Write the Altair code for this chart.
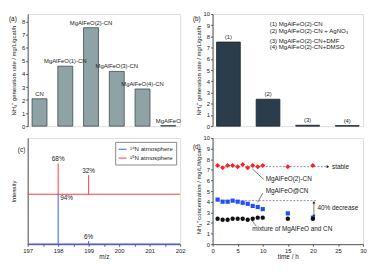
import altair as alt
import pandas as pd

FONT = "Liberation Sans"

# ---------------- data ----------------
cats_a = ["CN", "MgAlFeO(1)-CN", "MgAlFeO(2)-CN", "MgAlFeO(3)-CN", "MgAlFeO(4)-CN", "MgAlFeO"]
rates_a = [2.1, 4.6, 7.55, 4.2, 2.85, 0.05]

cats_b = ["(1)", "(2)", "(3)", "(4)"]
rates_b = [7.5, 2.4, 0.08, 0.05]
legend_b = ["(1)  MgAlFeO(2)-CN", "(2)  MgAlFeO(2)-CN + AgNO₃", "(3)  MgAlFeO(2)-CN+DMF", "(4)  MgAlFeO(2)-CN+DMSO"]
legend_b_y = [9.1, 8.5, 7.6, 7.1]

series_c = ["¹⁴N atmosphere", "¹⁵N atmosphere"]
mz_c = [198, 199]
blue_base_c = 0.0
blue_peak_c = [0.47, 0.03]
blue_lab_c = ["94%", "6%"]
red_base_c = 0.47
red_peak_c = [0.76, 0.65]
red_lab_c = ["68%", "32%"]

time_d = [1, 2, 3, 4, 5, 6, 7, 8, 9, 10, 15, 20]
red_d = [7.4, 7.2, 7.4, 7.4, 7.3, 7.5, 7.2, 7.4, 7.3, 7.4, 7.3, 7.4]
blue_d = [4.2, 4.0, 4.0, 4.1, 4.0, 3.9, 3.8, 3.6, 3.5, 3.3, 2.9, 2.5]
black_d = [2.4, 2.3, 2.3, 2.4, 2.4, 2.4, 2.3, 2.4, 2.5, 2.5, 2.4, 2.4]

# ---------------- helpers ----------------
def yaxis(title, values, labels=True, ticks=True):
    return alt.Axis(title=title, values=values, labels=labels, ticks=ticks, grid=False,
                    minExtent=8, maxExtent=8, titlePadding=3, labelFontSize=6,
                    titleFontSize=6, tickSize=2, labelPadding=1, domainColor="#555",
                    tickColor="#555", titleFontWeight="normal", titleColor="#222",
                    labelColor="#222", labelFont=FONT, titleFont=FONT,
                    labelOverlap=False, labelFlush=False)

def xaxis(title, values, label_expr=None):
    kw = dict(title=title, values=values, grid=False, labelFontSize=6, titleFontSize=6.5,
              tickSize=2, labelPadding=1, titlePadding=1, domainColor="#555", tickColor="#555",
              titleFontWeight="normal", titleColor="#222", labelColor="#222",
              labelFont=FONT, titleFont=FONT, labelAngle=0, labelOverlap=False, labelFlush=False)
    if label_expr:
        kw["labelExpr"] = label_expr
    return alt.Axis(**kw)

def panel_label(txt, x, y):
    return alt.Chart(pd.DataFrame({"t": [txt]})).mark_text(
        align="left", baseline="middle", fontSize=6.5, font=FONT, color="#222"
    ).encode(x=alt.value(x), y=alt.value(y), text="t:N")

W0, W1, H0, H1 = 155, 153, 114, 108

# ---------------- panel a ----------------
df_a = pd.DataFrame({"cat": cats_a, "rate": rates_a})
xa = alt.X("cat:N", sort=cats_a, axis=None,
           scale=alt.Scale(paddingInner=0.42, paddingOuter=0.17))
ya = alt.Y("rate:Q", scale=alt.Scale(domain=[0, 8.6], nice=False),
           axis=yaxis("NH₄⁺ generation rate / mg/L/gcat/h", list(range(9))))
bars_a = alt.Chart(df_a).mark_bar(color="#8fa3a6", stroke="#3e4d50", strokeWidth=0.8).encode(x=xa, y=ya)
text_a = alt.Chart(df_a).mark_text(dy=-2, baseline="bottom", fontSize=6, font=FONT, color="#222").encode(
    x=xa, y=ya, text="cat:N")
pa = alt.layer(bars_a, text_a, panel_label("(a)", -19, 5)).properties(width=W0, height=H0)

# ---------------- panel b ----------------
df_b = pd.DataFrame({"cat": cats_b, "rate": rates_b})
xb = alt.X("cat:N", sort=cats_b, axis=None,
           scale=alt.Scale(paddingInner=0.4, paddingOuter=0.1))
yb = alt.Y("rate:Q", scale=alt.Scale(domain=[0, 10], nice=False),
           axis=yaxis("NH₄⁺ generation rate / mg/L/gcat/h", list(range(11))))
bars_b = alt.Chart(df_b).mark_bar(color="#2b3d4a", stroke="#1a252e", strokeWidth=0.8).encode(x=xb, y=yb)
text_b = alt.Chart(df_b).mark_text(dy=-2, baseline="bottom", fontSize=6, font=FONT, color="#222").encode(
    x=xb, y=yb, text="cat:N")
df_bl = pd.DataFrame({"t": legend_b, "rate": legend_b_y})
leg_b = alt.Chart(df_bl).mark_text(align="left", baseline="middle", fontSize=6.2, font=FONT, color="#222").encode(
    x=alt.value(58), y=yb, text="t:N")
pb = alt.layer(bars_b, text_b, leg_b, panel_label("(b)", -20, 5)).properties(width=W1, height=H0)

# ---------------- panel c ----------------
xc_scale = alt.Scale(domain=[197, 202], nice=False)
yc_scale = alt.Scale(domain=[0, 1], nice=False)
XC_AXIS = xaxis("m/z", [197, 197.5, 198, 198.5, 199, 199.5, 200, 200.5, 201, 201.5, 202],
                "datum.value % 1 ? '' : format(datum.value, 'd')")
YC_AXIS = yaxis("Intensity", [], labels=False, ticks=False)
color_c = alt.Color("series:N", scale=alt.Scale(domain=series_c, range=["#3a55ff", "#ff3b3b"]),
                    legend=alt.Legend(title=None, orient="top-right", offset=4, strokeColor="#888",
                                      fillColor="white", padding=3, labelFontSize=6.2, labelFont=FONT,
                                      symbolType="stroke", symbolSize=64, symbolStrokeWidth=1,
                                      rowPadding=1, labelColor="#222", labelOffset=3))
df_c = pd.DataFrame({
    "mz": mz_c + mz_c,
    "v": [blue_base_c] * 2 + [red_base_c] * 2,
    "peak": blue_peak_c + red_peak_c,
    "series": [series_c[0]] * 2 + [series_c[1]] * 2,
})
xc = alt.X("mz:Q", scale=xc_scale, axis=XC_AXIS)
yc = alt.Y("v:Q", scale=yc_scale, axis=YC_AXIS)
base_lines = alt.Chart(pd.DataFrame({"v": [0.002, red_base_c], "c": ["#3a55ff", "#ff3b3b"]})).mark_rule(
    strokeWidth=1).encode(y=yc, color=alt.Color("c:N", scale=None))
peaks_c = alt.Chart(df_c).mark_rule(strokeWidth=1).encode(x=xc, y=yc, y2="peak:Q", color=color_c)
df_ct = pd.DataFrame({"mz": [198, 199, 198, 199], "v": [0.76, 0.65, 0.43, 0.03],
                      "lab": ["68%", "32%", "94%", "6%"]})
lab_top = alt.Chart(df_ct.iloc[[0, 1, 3]]).mark_text(baseline="bottom", dy=-1, fontSize=6.5, font=FONT,
                                                      color="#222").encode(x=xc, y=yc, text="lab:N")
lab_side = alt.Chart(df_ct.iloc[[2]]).mark_text(align="left", baseline="middle", dx=2, fontSize=6.5, font=FONT,
                                                color="#222").encode(x=xc, y=yc, text="lab:N")
pc = alt.layer(base_lines, peaks_c, lab_top, lab_side, panel_label("(c)", -10, 12)).properties(
    width=W0, height=H1).resolve_scale(color="independent")

# ---------------- panel d ----------------
xd_scale = alt.Scale(domain=[0, 30], nice=False)
yd_scale = alt.Scale(domain=[0, 10], nice=False)
XD_AXIS = xaxis("time / h", [0, 5, 10, 15, 20, 25, 30])
YD_AXIS = yaxis("NH₄⁺ concentration / mg/L/h/gcat", list(range(11)))
xd = alt.X("t:Q", scale=xd_scale, axis=XD_AXIS)
yd = alt.Y("v:Q", scale=yd_scale, axis=YD_AXIS)

def pts(vals, shape, color, size):
    return alt.Chart(pd.DataFrame({"t": time_d, "v": vals})).mark_point(
        shape=shape, filled=True, color=color, size=size, opacity=1).encode(x=xd, y=yd)

guide = pd.DataFrame({"t": [1, 1], "t2": [23, 20.6], "v": [7.3, 4.1]})
guides = alt.Chart(guide).mark_rule(strokeDash=[2, 1.5], color="#777", strokeWidth=0.8).encode(
    x=xd, x2="t2:Q", y=yd)
ann_lines = pd.DataFrame({"t": [10.2, 10.0, 8.7, 20.2], "t2": [7.9, 9.0, 7.9, 20.2],
                          "v": [6.1, 4.8, 1.7, 3.95], "v2": [7.1, 3.95, 2.2, 2.65]})
ann = alt.Chart(ann_lines).mark_rule(color="#222", strokeWidth=0.6).encode(
    x=xd, x2="t2:Q", y=yd, y2="v2:Q")
heads = pd.DataFrame({"t": [23, 20.2, 20.2], "v": [7.3, 3.95, 2.65],
                      "s": ["triangle-right", "triangle-up", "triangle-down"]})
arrowheads = alt.Chart(heads).mark_point(filled=True, color="#222", size=10, opacity=1).encode(
    x=xd, y=yd, shape=alt.Shape("s:N", scale=None))
ann_text = pd.DataFrame({"t": [10.6, 10.6, 7.9, 23.8, 20.9],
                         "v": [6.1, 5.0, 1.45, 7.3, 3.45],
                         "lab": ["MgAlFeO(2)-CN", "MgAlFeO@CN", "mixture of MgAlFeO and CN", "stable", "40% decrease"]})
texts_d = alt.Chart(ann_text).mark_text(align="left", baseline="middle", fontSize=6.5, font=FONT, color="#222").encode(
    x=xd, y=yd, text="lab:N")

pd_ = alt.layer(
    guides, ann, arrowheads,
    pts(red_d, "diamond", "#ff1f1f", 26),
    pts(blue_d, "square", "#1f4fff", 18),
    pts(black_d, "circle", "#111111", 20),
    texts_d, panel_label("(d)", -20, 9),
).properties(width=W1, height=H1)

chart = alt.concat(pa, pb, pc, pd_, columns=2, spacing={"row": 12, "column": 33},
                   bounds="flush").properties(padding=0).configure_view(
    stroke="#555", strokeWidth=0.8).configure_axis(labelOverlap=False, labelFlush=False).configure(font=FONT)

chart.save("out.html", embed_options={"renderer": "svg", "actions": False})
